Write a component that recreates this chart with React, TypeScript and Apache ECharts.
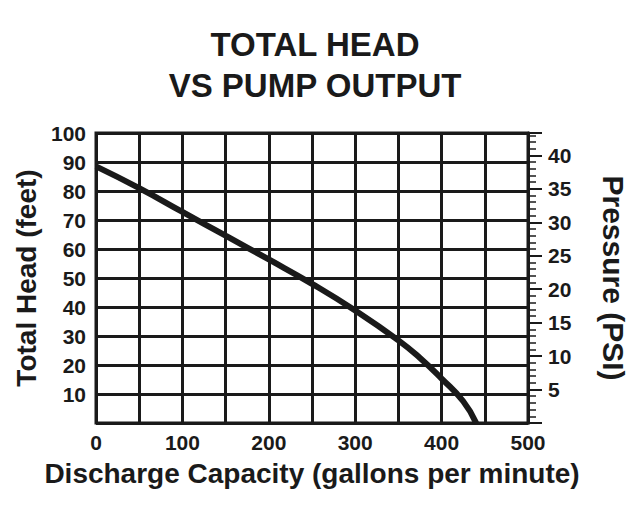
import React, { useEffect, useRef } from "react";
import * as echarts from "echarts";

const flowGpm = [0, 50, 100, 150, 200, 250, 300, 350, 375, 400, 425, 440];
const headFeet = [88.5, 81, 72.8, 64.6, 56.4, 48, 38.8, 28.5, 22.4, 15.3, 7.5, 0];
const titleLines = ["TOTAL HEAD", "VS PUMP OUTPUT"];
const xName = "Discharge Capacity (gallons per minute)";
const yLeftName = "Total Head (feet)";
const yRightName = "Pressure (PSI)";
const headMax = 100;
const psiPerFoot = 0.4335;

const FONT = "'Liberation Sans', Arial, Helvetica, sans-serif";

export default function App() {
  const ref = useRef<HTMLDivElement>(null);
  useEffect(() => {
    if (!ref.current) return;
    const chart = echarts.init(ref.current, null, { renderer: "svg" });
    const labelStyle = { color: "#1a1a1a", fontFamily: FONT, fontWeight: "bold" as const, fontSize: 21 };
    chart.setOption({
      animation: false,
      backgroundColor: "#ffffff",
      title: {
        text: titleLines.join("\n"),
        left: 310,
        textAlign: "center",
        top: 19,
        textStyle: {
          fontFamily: FONT,
          fontWeight: 900,
          fontSize: 33,
          lineHeight: 41,
          color: "#1a1a1a",
        },
      },
      grid: {
        left: 96,
        right: 112,
        top: 133,
        bottom: 100,
        show: true,
        borderColor: "#1a1a1a",
        borderWidth: 3,
        backgroundColor: "transparent",
      },
      xAxis: {
        type: "value",
        min: 0,
        max: 500,
        interval: 50,
        name: xName,
        nameLocation: "middle",
        nameGap: 36,
        nameTextStyle: { ...labelStyle, fontSize: 28 },
        axisLine: { show: false },
        axisTick: { show: false },
        splitLine: { show: true, lineStyle: { color: "#1a1a1a", width: 3 } },
        axisLabel: {
          ...labelStyle,
          margin: 9,
          formatter: (v: number) => (v % 100 === 0 ? String(v) : ""),
        },
      },
      yAxis: [
        {
          type: "value",
          min: 0,
          max: headMax,
          interval: 10,
          name: yLeftName,
          nameLocation: "middle",
          nameGap: 55,
          nameTextStyle: { ...labelStyle, fontSize: 28 },
          axisLine: { show: false },
          axisTick: { show: false },
          splitLine: { show: true, lineStyle: { color: "#1a1a1a", width: 3 } },
          axisLabel: { ...labelStyle, margin: 10, showMinLabel: false },
        },
        {
          type: "value",
          position: "right",
          min: 0,
          max: headMax * psiPerFoot,
          interval: 5,
          name: yRightName,
          nameLocation: "middle",
          nameGap: 70,
          nameRotate: -90,
          nameTextStyle: { ...labelStyle, fontSize: 30 },
          axisLine: { show: true, lineStyle: { color: "#1a1a1a", width: 3 } },
          axisTick: { show: true, inside: false, length: 14, lineStyle: { color: "#1a1a1a", width: 2 } },
          minorTick: { show: true, splitNumber: 5, length: 8, lineStyle: { color: "#1a1a1a", width: 1.5 } },
          splitLine: { show: false },
          axisLabel: {
            ...labelStyle,
            margin: 20,
            showMinLabel: false,
            formatter: (v: number) => (v > 0 && Math.abs(v % 5) < 1e-6 ? String(v) : ""),
          },
        },
      ],
      series: [
        {
          type: "line",
          data: flowGpm.map((x, i) => [x, headFeet[i]]),
          smooth: 0.5,
          symbol: "none",
          lineStyle: { color: "#1a1a1a", width: 6 },
          yAxisIndex: 0,
          z: 5,
        },
      ],
    });
    return () => chart.dispose();
  }, []);
  return (
    <div
      ref={ref}
      style={{ position: "fixed", left: 0, top: 0, width: 640, height: 523 }}
    />
  );
}
